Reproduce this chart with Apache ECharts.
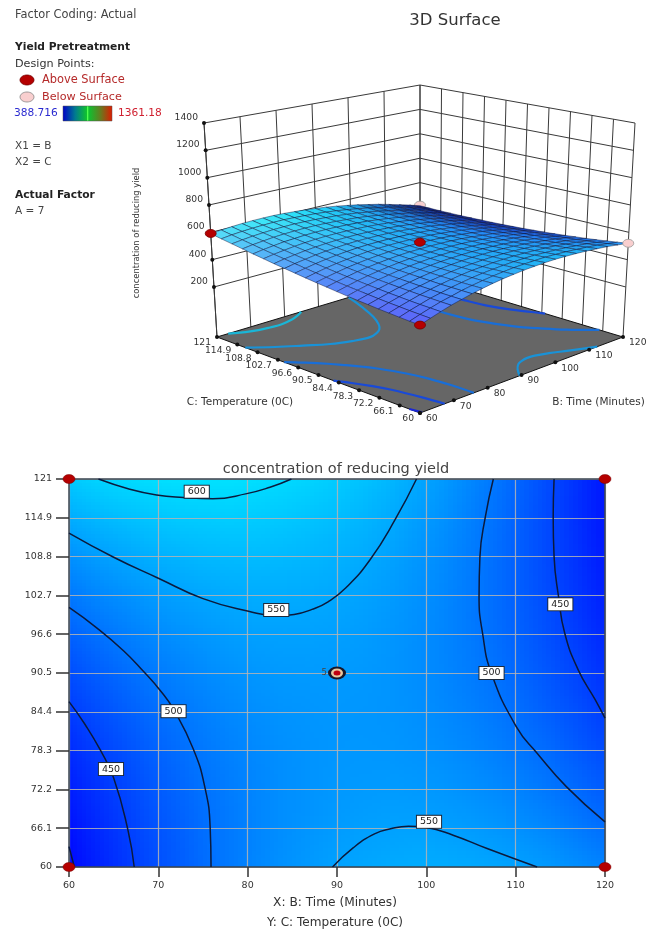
<!DOCTYPE html>
<html>
<head>
<meta charset="utf-8">
<style>html,body{margin:0;padding:0;background:#fff}#c{width:646px;height:931px}</style>
<script src="https://cdn.jsdelivr.net/npm/echarts@6/dist/echarts.min.js"></script>
</head>
<body>
<div id="c"></div>
<script>
const bTicks = [60,70,80,90,100,110,120];
const cTicks = [60,66.1,72.2,78.3,84.4,90.5,96.6,102.7,108.8,114.9,121];
const zTicks = [200,400,600,800,1000,1200,1400];
const zFloor = -166, zTop = 1400;

// Response surface: rows are C = 60 .. 121, columns are B = 60 .. 120, 21 levels each.
const surfaceZ = [
[396,419,441,462,479,496,510,523,534,542,550,555,559,561,560,558,554,548,541,531,520],
[400,423,444,464,480,497,510,522,532,540,547,551,554,556,554,551,546,540,532,521,509],
[405,427,447,467,482,498,510,522,531,538,544,548,550,551,548,544,539,531,523,511,499],
[411,432,451,470,485,499,511,522,531,536,542,545,547,546,543,539,533,524,515,503,489],
[417,437,456,474,488,502,513,523,531,536,541,543,544,542,539,533,527,517,507,494,480],
[424,443,461,478,492,505,515,524,531,536,540,541,541,539,535,529,521,511,500,487,472],
[431,450,467,483,496,508,518,526,532,536,539,540,539,536,531,524,516,505,494,479,464],
[438,457,473,488,500,512,521,528,534,537,539,539,538,534,528,521,512,500,488,473,456],
[447,464,480,494,506,516,525,531,536,538,540,539,537,533,526,518,508,496,482,468,449],
[456,472,487,501,512,521,529,535,539,540,541,540,537,532,524,515,505,492,477,461,443],
[465,481,495,508,518,527,534,539,542,543,543,541,537,531,523,513,502,488,473,456,437],
[475,490,504,516,525,533,540,544,546,546,545,543,538,531,522,512,500,485,469,452,432],
[486,500,513,524,533,540,546,549,550,550,548,545,539,532,522,511,498,483,466,448,427],
[497,511,522,533,541,547,552,555,555,554,552,548,541,533,523,510,497,481,464,444,423],
[508,522,532,542,549,555,559,561,561,559,556,551,544,535,524,511,497,480,462,442,420],
[521,533,543,552,559,564,567,568,567,565,561,555,547,537,526,512,497,479,460,440,417],
[533,545,554,563,568,573,575,576,574,571,566,560,551,540,528,513,498,479,459,438,414],
[547,558,566,574,579,582,584,584,581,577,571,565,555,543,530,515,499,479,459,437,412],
[561,571,579,585,590,592,594,592,589,584,578,570,560,547,534,517,501,480,459,436,411],
[575,585,592,597,601,603,604,601,597,592,585,576,565,552,538,520,503,482,460,436,410],
[590,599,605,610,613,614,614,611,606,600,592,583,571,557,542,524,506,484,461,437,410]
];

const contour400 = [[60,63.2],[60.6,60]];
const contour450a = [[60,86],[61.8,82.4],[63.5,78.4],[65,74],[66.6,65.8],[67.3,60]];
const contour500a = [[60,100.8],[63.1,97.6],[66.1,94],[68.3,90.8],[70.3,87.6],[71.7,84.8],[73.9,78.6],[75.2,72.6],[75.8,66.3],[75.9,60]];
const contour550a = [[60,112.5],[65,108.7],[70,105.4],[75,102.2],[80.1,100.2],[83.2,99.5],[85.2,99.7],[87.2,100.5],[89,101.7],[91,103.9],[93.7,108.3],[96.5,114.6],[98.9,121]];
const contour600 = [[63.3,121],[66.8,119.4],[69.8,118.5],[72.8,118.1],[76.1,117.9],[79.9,118.7],[82.5,119.7],[84.9,121]];
const contour550b = [[89.5,60],[91.8,63],[94.2,65.2],[96,66],[98,66.4],[100,66.2],[103,65],[106.8,62.9],[112.4,60]];
const contour500b = [[107.5,121],[106.6,115],[106,108.8],[105.9,102.6],[106.3,96.7],[107.3,90.4],[110.1,82],[112.4,77.9],[115.7,72.6],[120,67.1]];
const contour450b = [[114.3,121],[114.2,115],[114.3,108.8],[114.8,102.5],[115.5,96.7],[117,91],[118.9,86.3],[120,83.4]];
const contourLines = [[400,contour400],[450,contour450a],[500,contour500a],[550,contour550a],[600,contour600],[550,contour550b],[500,contour500b],[450,contour450b]];
const contourLabels = [[74.3,119,600],[83.2,100.4,550],[107.3,90.5,500],[115,101.3,450],[100.3,67.1,550],[71.7,84.5,500],[64.7,75.4,450]];

const cornerPoints = [[60,60],[60,121],[120,60],[120,121]];
const centerPoint = [[90,90.5]];
const designPoints3D = [[120,121,415,0],[60,121,592,1],[90,90.5,548,1],[60,60,396,1],[120,60,520,0]];

const legendMin = '388.716', legendMax = '1361.18';

// Box of the 3D view on the page
const view = {
  floor:{front:[420,413],left:[217,337],right:[623,337],back:[420,276]},
  top:{front:[420,168],left:[204,123],right:[635,123],back:[420,85]}
};
function bil(q,u,v){
  const f=(1-u)*(1-v),r=u*(1-v),l=(1-u)*v,b=u*v;
  return [q.front[0]*f+q.right[0]*r+q.left[0]*l+q.back[0]*b, q.front[1]*f+q.right[1]*r+q.left[1]*l+q.back[1]*b];
}
function project(B,C,Z){
  const u=(B-60)/60,v=(C-60)/61,g=(Z-zFloor)/(zTop-zFloor);
  const a=bil(view.floor,u,v),t=bil(view.top,u,v);
  return [a[0]+(t[0]-a[0])*g,a[1]+(t[1]-a[1])*g];
}
const N = surfaceZ.length-1;
function greenOf(z){return Math.max(0,Math.min(255,z-388.7));}
function rgb(r,g,b){return 'rgb('+Math.round(r)+','+Math.round(g)+','+Math.round(b)+')';}
function shade(z,dB,dC){
  let c=[0,greenOf(z),245];
  const s=dB+dC;
  const t=Math.min(.42,.14+Math.max(0,s)*.008);
  c=c.map(v=>v+(255-v)*t);
  const dark=Math.min(.6,Math.max(0,(-dB-12)*.035));
  c=c.map(v=>v*(1-dark));
  return rgb(c[0],c[1],c[2]);
}
const cells=[];
for(let j=0;j<N;j++)for(let i=0;i<N;i++)cells.push([i,j]);
const cellsBackToFront=cells.slice().sort((a,b)=>(b[0]+b[1])-(a[0]+a[1]));
const bOf=i=>60+i*60/N, cOf=j=>60+j*61/N;

function renderWalls(){
  const ch=[];
  const line=(p,q,w,col)=>ch.push({type:'line',shape:{x1:p[0],y1:p[1],x2:q[0],y2:q[1]},style:{stroke:col||'#3a3a3a',lineWidth:w||1}});
  bTicks.forEach(b=>line(project(b,121,zFloor),project(b,121,zTop)));
  cTicks.forEach(c=>line(project(120,c,zFloor),project(120,c,zTop)));
  zTicks.forEach(z=>{line(project(60,121,z),project(120,121,z));line(project(120,121,z),project(120,60,z));});
  line(project(60,121,zFloor),project(60,121,zTop));
  return {type:'group',children:ch};
}
function renderFloor(){
  const q=[[60,60],[120,60],[120,121],[60,121]].map(p=>project(p[0],p[1],zFloor));
  return {type:'polygon',shape:{points:q},style:{fill:'#666666',stroke:'#111',lineWidth:1}};
}
function contourColor(level){const g=greenOf(level);return rgb(25,g*.72+30,215);}
function renderFloorContours(){
  return {type:'group',children:contourLines.map(c=>({type:'polyline',shape:{points:c[1].map(p=>project(p[0],p[1],zFloor)),smooth:.4},style:{fill:null,stroke:contourColor(c[0]),lineWidth:2.2}}))};
}
function renderCell(params,api){
  const i=api.value(0),j=api.value(1);
  const z00=surfaceZ[j][i],z10=surfaceZ[j][i+1],z01=surfaceZ[j+1][i],z11=surfaceZ[j+1][i+1];
  const dB=((z10-z00)+(z11-z01))/2,dC=((z01-z00)+(z11-z10))/2;
  const pts=[project(bOf(i),cOf(j),z00),project(bOf(i+1),cOf(j),z10),project(bOf(i+1),cOf(j+1),z11),project(bOf(i),cOf(j+1),z01)];
  return {type:'polygon',shape:{points:pts},style:{fill:shade((z00+z10+z01+z11)/4,dB,dC),stroke:'rgba(10,20,60,.65)',lineWidth:.7}};
}
function renderTicks3D(){
  const ch=[],font='9.2px "DejaVu Sans"',col='#333';
  const dot=(p)=>ch.push({type:'circle',shape:{cx:p[0],cy:p[1],r:2},style:{fill:'#111'}});
  const lab=(t,x,y,al)=>ch.push({type:'text',x:x,y:y,style:{text:String(t),align:al,verticalAlign:'middle',font:font,fill:col}});
  zTicks.forEach(z=>{const p=project(60,121,z);dot(p);lab(z,p[0]-6,p[1]-5.5,'right');});
  cTicks.forEach(c=>{const p=project(60,c,zFloor);dot(p);lab(c,p[0]-6,p[1]+6,'right');});
  bTicks.forEach(b=>{const p=project(b,60,zFloor);dot(p);lab(b,p[0]+6,p[1]+6,'left');});
  return {type:'group',children:ch};
}
function ell(p,rx,ry,fill,stroke){return {type:'ellipse',shape:{cx:p[0],cy:p[1],rx:rx,ry:ry},style:{fill:fill,stroke:stroke,lineWidth:.8}};}
const ptAbove='#b50000',ptBelow='#f9cfcf';
function renderDesign3D(front){
  return function(params,api){
    const d=designPoints3D[params.dataIndex];
    if((d[0]===120&&d[1]===121)!==!front) return null;
    return ell(project(d[0],d[1],d[2]),5.5,4,d[3]?ptAbove:ptBelow,d[3]?'#700':'#999');
  };
}
function renderHeat(params,api){
  const i=api.value(0),j=api.value(1),sub=6,ch=[];
  const z00=surfaceZ[j][i],z10=surfaceZ[j][i+1],z01=surfaceZ[j+1][i],z11=surfaceZ[j+1][i+1];
  for(let a=0;a<sub;a++)for(let b=0;b<sub;b++){
    const p=api.coord([bOf(i+a/sub),cOf(j+(b+1)/sub)]),q=api.coord([bOf(i+(a+1)/sub),cOf(j+b/sub)]);
    const ua=(a+.5)/sub,ub=(b+.5)/sub;
    const z=z00*(1-ua)*(1-ub)+z10*ua*(1-ub)+z01*(1-ua)*ub+z11*ua*ub;
    const x0=Math.floor(p[0]),y0=Math.floor(p[1]),x1=Math.ceil(q[0]),y1=Math.ceil(q[1]);
    ch.push({type:'rect',shape:{x:x0,y:y0,width:x1-x0,height:y1-y0},style:{fill:rgb(0,greenOf(z),255)}});
  }
  return {type:'group',children:ch};
}
function one(render,z){return {type:'custom',coordinateSystem:'none',renderItem:render,data:[[0]],z:z,silent:true,animation:false,progressive:0};}

const sans='"DejaVu Sans"';
const txt=(t,x,y,size,fill,opt)=>Object.assign({type:'text',x:x,y:y,silent:true,z:20,style:{text:t,align:(opt&&opt.align)||'left',verticalAlign:'middle',fill:fill,font:((opt&&opt.bold)?'bold ':'')+size+'px '+sans}},opt&&opt.extra||{});
const gs=[
 txt('Factor Coding: Actual',15,15,11.4,'#444'),
 txt('Yield Pretreatment',15,47,10.7,'#222',{bold:true}),
 txt('Design Points:',15,64,11.2,'#333'),
 {type:'ellipse',z:20,silent:true,shape:{cx:27,cy:80,rx:7,ry:5},style:{fill:ptAbove,stroke:'#700',lineWidth:.8}},
 txt('Above Surface',42,80,11.4,'#b52a2a'),
 {type:'ellipse',z:20,silent:true,shape:{cx:27,cy:97,rx:7,ry:5},style:{fill:ptBelow,stroke:'#888',lineWidth:.8}},
 txt('Below Surface',42,97,11.2,'#b52a2a'),
 txt(legendMin,14,113,10.6,'#2a2ad0'),
 {type:'rect',z:20,silent:true,shape:{x:63,y:106,width:49,height:15},style:{stroke:'#555',lineWidth:.5,fill:new echarts.graphic.LinearGradient(0,0,1,0,[{offset:0,color:'#0000c8'},{offset:.25,color:'#007a90'},{offset:.48,color:'#10c030'},{offset:.5,color:'#50ff50'},{offset:.53,color:'#10c030'},{offset:.75,color:'#608020'},{offset:1,color:'#e01a00'}])}},
 txt(legendMax,118,113,10.6,'#d02030'),
 txt('X1 = B',15,146,10.5,'#444'),
 txt('X2 = C',15,162,10.5,'#444'),
 txt('Actual Factor',15,195,10.7,'#222',{bold:true}),
 txt('A = 7',15,211,10.5,'#444'),
 txt('3D Surface',455,21,16.5,'#333',{align:'center'}),
 txt('concentration of reducing yield',137,233,8.4,'#333',{align:'center',extra:{rotation:Math.PI/2}}),
 txt('C: Temperature (0C)',240,402,10.5,'#333',{align:'center'}),
 txt('B: Time (Minutes)',598.5,402,10.5,'#333',{align:'center'}),
 txt('concentration of reducing yield',336,469,14.5,'#444',{align:'center'}),
 txt('X: B: Time (Minutes)',335,903,12.2,'#333',{align:'center'}),
 txt('Y: C: Temperature (0C)',335,923,12.1,'#333',{align:'center'})
];

const ellipseSym='path://M0 -1A1 1 0 1 1 0 1A1 1 0 1 1 0 -1Z';
const axisCol='#3a4450';
const gridLine={show:true,lineStyle:{color:'rgba(180,180,180,.85)',width:1.2}};
const series=[
 one(renderWalls,1),
 one(renderFloor,2),
 one(renderFloorContours,3),
 {type:'custom',coordinateSystem:'none',renderItem:renderDesign3D(false),data:designPoints3D,z:3,silent:true,animation:false,progressive:0},
 {type:'custom',coordinateSystem:'none',renderItem:renderCell,data:cellsBackToFront,z:4,silent:true,animation:false,progressive:0},
 one(renderTicks3D,5),
 {type:'custom',coordinateSystem:'none',renderItem:renderDesign3D(true),data:designPoints3D,z:6,silent:true,animation:false,progressive:0},
 {type:'custom',coordinateSystem:'cartesian2d',xAxisIndex:0,yAxisIndex:0,renderItem:renderHeat,data:cells,z:1,silent:true,animation:false,progressive:0,encode:{x:[],y:[]}}
];
contourLines.forEach(c=>series.push({type:'line',xAxisIndex:0,yAxisIndex:0,data:c[1],showSymbol:false,smooth:.5,lineStyle:{color:'#0b1a3c',width:1.5},z:7,silent:true,animation:false}));
series.push({type:'scatter',xAxisIndex:0,yAxisIndex:0,data:contourLabels,symbolSize:1,itemStyle:{color:'transparent',opacity:1},z:8,silent:true,animation:false,
  label:{show:true,position:'inside',formatter:p=>String(p.value[2]),backgroundColor:'#fff',borderColor:'#1c2a3c',borderWidth:1,padding:[1,3,1,3],color:'#222',fontSize:9.5,fontFamily:'DejaVu Sans'}});
series.push({type:'scatter',xAxisIndex:0,yAxisIndex:0,data:cornerPoints,symbol:ellipseSym,symbolSize:[12,9],itemStyle:{color:ptAbove,borderColor:'#700',borderWidth:.5,opacity:1},z:9,silent:true,animation:false,clip:false});
series.push({type:'scatter',xAxisIndex:0,yAxisIndex:0,data:centerPoint,symbol:ellipseSym,symbolSize:[18,13],itemStyle:{color:'#17172a',opacity:1},z:9,silent:true,animation:false,
  label:{show:true,position:'left',distance:1,formatter:'5',color:'#444',fontSize:8.5,fontFamily:'DejaVu Sans'}});
series.push({type:'scatter',xAxisIndex:0,yAxisIndex:0,data:centerPoint,symbol:ellipseSym,symbolSize:[12,9],itemStyle:{color:'#e8c8a0',opacity:1},z:10,silent:true,animation:false});
series.push({type:'scatter',xAxisIndex:0,yAxisIndex:0,data:centerPoint,symbol:ellipseSym,symbolSize:[7,5],itemStyle:{color:'#c00010',opacity:1},z:11,silent:true,animation:false});

const labelStyle={color:'#333',fontSize:9.5,fontFamily:'DejaVu Sans'};
const chart=echarts.init(document.getElementById('c'),null,{renderer:'canvas'});
chart.setOption({
 animation:false,
 backgroundColor:'#ffffff',
 grid:{left:69,top:479,width:536,height:388,containLabel:false},
 xAxis:[
  {type:'value',min:60,max:120,interval:10,position:'bottom',z:4,
   axisLine:{show:true,onZero:false,lineStyle:{color:axisCol,width:1.5}},
   axisTick:{show:true,length:10,lineStyle:{color:'#333',width:1.5}},
   axisLabel:Object.assign({margin:14,showMinLabel:true,showMaxLabel:true},labelStyle),splitLine:gridLine},
  {type:'value',min:60,max:120,position:'top',z:4,axisLine:{show:true,onZero:false,lineStyle:{color:axisCol,width:1.5}},axisTick:{show:false},axisLabel:{show:false},splitLine:{show:false}}
 ],
 yAxis:[
  {type:'value',min:60,max:121,position:'left',z:4,
   axisLine:{show:true,onZero:false,lineStyle:{color:axisCol,width:1.5}},
   axisTick:{show:true,length:13,customValues:cTicks,lineStyle:{color:'#333',width:1.5}},
   axisLabel:Object.assign({margin:17,customValues:cTicks,formatter:v=>String(v)},labelStyle),splitLine:gridLine},
  {type:'value',min:60,max:121,position:'right',z:4,axisLine:{show:true,onZero:false,lineStyle:{color:axisCol,width:1.5}},axisTick:{show:false},axisLabel:{show:false},splitLine:{show:false}}
 ],
 graphic:{elements:gs},
 series:series
});
</script>
</body>
</html>
